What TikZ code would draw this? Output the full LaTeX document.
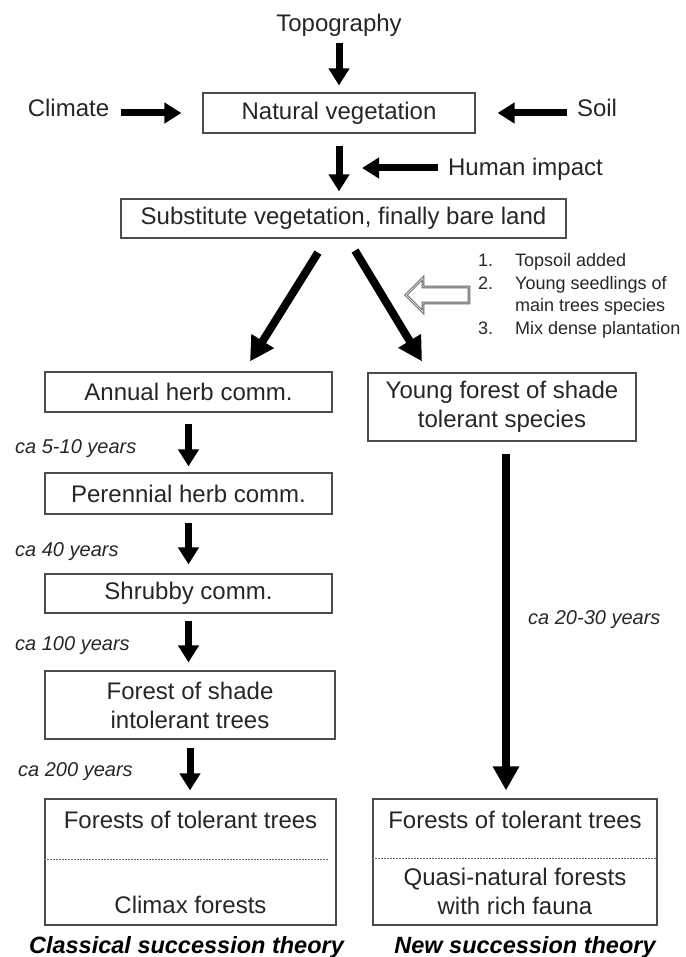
\documentclass[tikz,border=0pt]{standalone}
\usepackage{fontspec}
\setmainfont{Liberation Sans}
\usetikzlibrary{arrows.meta}

\tikzset{
  stage/.style={draw=black!70, line width=1.2pt, align=center, inner sep=0pt,
    font=\fontsize{24}{29}\selectfont, text=black!85},
  lbl/.style={font=\fontsize{24}{29}\selectfont, text=black!85, inner sep=0pt, anchor=base},
  yrs/.style={font=\fontsize{20}{24}\selectfont\itshape, text=black!85, inner sep=0pt, anchor=base west},
  theory/.style={font=\fontsize{23.5}{28}\selectfont\bfseries\itshape, inner sep=0pt, anchor=base},
  listitem/.style={font=\fontsize{18}{22}\selectfont, text=black!85, inner sep=0pt, anchor=base west},
  fat/.style={line width=7pt, -{Triangle[length=17pt,width=20pt]}},
  fatter/.style={line width=8pt, -{Triangle[length=24pt,width=25pt]}},
  hollow/.style={draw=black!60, line width=0.9pt, double=black!15, double distance=0.9pt, fill=white},
  sep/.style={draw=black!60, line width=1pt, dash pattern=on 1.5pt off 1.5pt}
}

\begin{document}
\begin{tikzpicture}[x=1pt,y=-1pt]
\useasboundingbox (0,0) rectangle (685,957);

\node[lbl] (topo) at (339,32) {Topography};
\node[stage, minimum width=272pt, minimum height=40pt] (natveg) at (339,113) {Natural vegetation};
\node[lbl] (climate) at (68.5,117) {Climate};
\node[lbl] (soil) at (597,117) {Soil};
\node[lbl] (human) at (525.5,176) {Human impact};
\coordinate (hit) at (362,168);
\node[stage, minimum width=445pt, minimum height=39pt] (subst) at (343.5,218.5) {Substitute vegetation, finally bare land};

\draw[fat] ([yshift=-6pt]topo.south) -- ([yshift=7pt]natveg.north);
\draw[fat] ([xshift=12pt]climate.east |- natveg.west) -- ([xshift=-21pt]natveg.west);
\draw[fat] ([xshift=-10pt]soil.west |- natveg.east) -- ([xshift=22pt]natveg.east);
\draw[fat] ([yshift=-12pt]natveg.south) -- ([yshift=7pt]natveg.south |- subst.north);
\draw[fat] ([xshift=-10pt]human.west |- hit) -- (hit);

% list of measures
\node[listitem] (n1) at (478,267) {1.};
\node[listitem] (t1) at (515,267) {Topsoil added};
\node[listitem] (n2) at (478,289) {2.};
\node[listitem] (t2) at (515,289) {Young seedlings of};
\node[listitem] (t3) at (515,311) {main trees species};
\node[listitem] (n3) at (478,334) {3.};
\node[listitem] (t4) at (515,334) {Mix dense plantation};
\draw[hollow] (406,295)--(423,278)--(423,287)--(469,287)--(469,303)--(423,303)--(423,312)--cycle;

% classical column
\node[stage, minimum width=287pt, minimum height=40pt] (annual) at (188.5,392) {Annual herb comm.};
\node[stage, minimum width=287pt, minimum height=41pt] (perennial) at (188.5,493.5) {Perennial herb comm.};
\node[stage, minimum width=287pt, minimum height=39pt] (shrubby) at (188.5,593.5) {Shrubby comm.};
\node[stage, minimum width=290pt, minimum height=68pt] (shade) at (190,705) {Forest of shade\\intolerant trees};
\node[stage, minimum width=291pt, minimum height=126pt] (climax) at (190.5,862) {};
\node[lbl] (climaxtop) at (190.5,828) {Forests of tolerant trees};
\node[lbl] (climaxbot) at (190.5,913) {Climax forests};
\draw[sep] ([yshift=-61pt]climax.north west) -- ([yshift=-61pt,xshift=-8pt]climax.north east);

\node[yrs] (y1) at (15,453) {ca 5-10 years};
\node[yrs] (y2) at (15,556) {ca 40 years};
\node[yrs] (y3) at (15,650) {ca 100 years};
\node[yrs] (y4) at (18,776) {ca 200 years};

\draw[fat] ([yshift=-11pt]annual.south) -- ([yshift=6pt]perennial.north);
\draw[fat] ([yshift=-8pt]perennial.south) -- ([yshift=9pt]shrubby.north);
\draw[fat] ([yshift=-7pt]shrubby.south) -- ([yshift=8pt]shrubby.south |- shade.north);
\draw[fat] ([yshift=-8pt]shade.south) -- ([yshift=8pt]shade.south |- climax.north);

% new column
\node[stage, minimum width=268pt, minimum height=68pt] (young) at (502,407) {Young forest of shade\\tolerant species};
\node[stage, minimum width=284pt, minimum height=126pt] (quasi) at (515,862) {};
\node[lbl] (quasitop) at (515,828) {Forests of tolerant trees};
\node[lbl, align=center, anchor=north] (quasibot) at (515,868) {Quasi-natural forests\\with rich fauna};
\draw[sep] ([yshift=-60pt]quasi.north west) -- ([yshift=-60pt]quasi.north east);
\node[yrs] (y5) at (528,624) {ca 20-30 years};
\draw[fatter] ([xshift=4pt,yshift=-12pt]young.south) -- ([xshift=4pt,yshift=8pt]young.south |- quasi.north);

\draw[fatter] ([xshift=-25.5pt,yshift=-14pt]subst.south) -- ([xshift=61.5pt,yshift=10pt]annual.north);
\draw[fatter] ([xshift=11.5pt,yshift=-12pt]subst.south) -- ([xshift=-80pt,yshift=11pt]young.north);

\node[theory] (classic) at (186.5,953) {Classical succession theory};
\node[theory] (newth) at (525,953) {New succession theory};
\end{tikzpicture}
\end{document}
